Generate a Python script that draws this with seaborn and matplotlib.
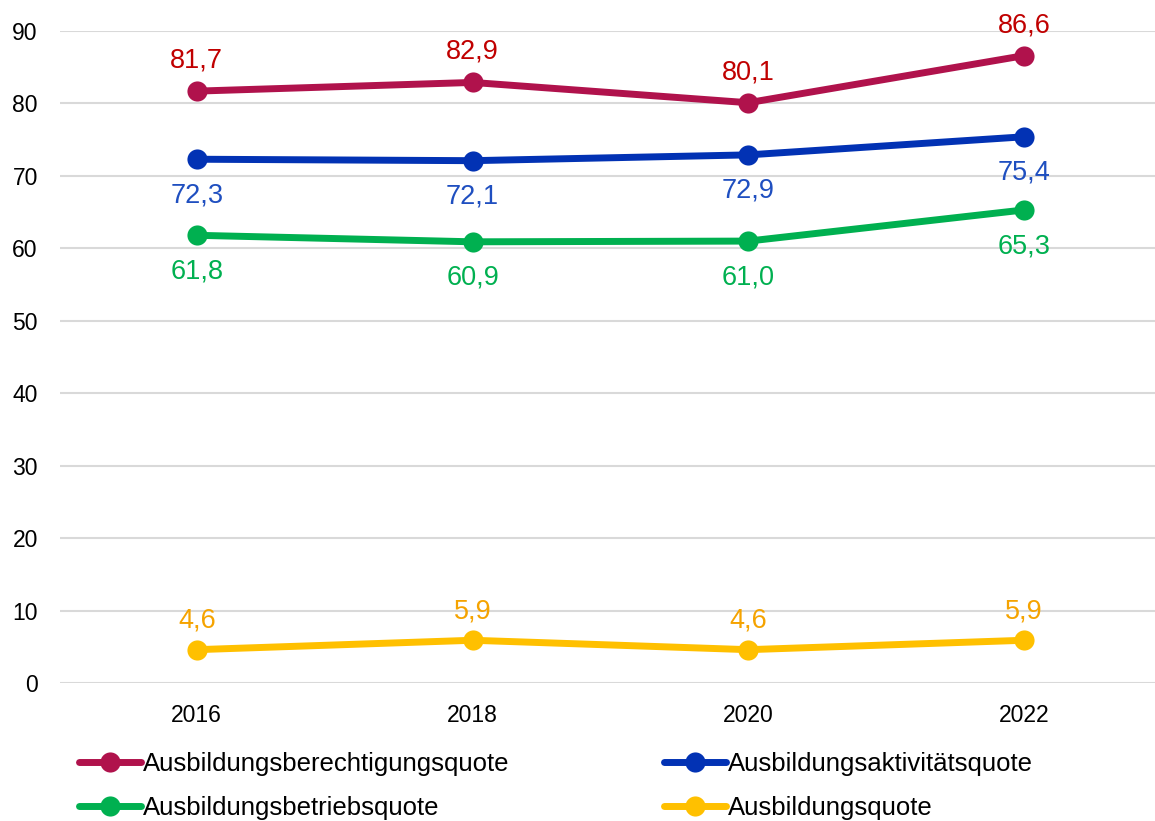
import matplotlib
matplotlib.use("Agg")
import matplotlib.pyplot as plt
import seaborn as sns
import pandas as pd
from matplotlib.lines import Line2D

years = ["2016", "2018", "2020", "2022"]
berechtigung = [81.7, 82.9, 80.1, 86.6]
aktivitaet = [72.3, 72.1, 72.9, 75.4]
betrieb = [61.8, 60.9, 61.0, 65.3]
quote = [4.6, 5.9, 4.6, 5.9]
series_names = ["Ausbildungsberechtigungsquote", "Ausbildungsaktivitätsquote",
                "Ausbildungsbetriebsquote", "Ausbildungsquote"]
yticks = [0, 10, 20, 30, 40, 50, 60, 70, 80, 90]

sns.set_theme(style="white")
plt.rcParams['font.family'] = ['Liberation Sans', 'DejaVu Sans']
plt.rcParams['text.color'] = '#000000'

line_colors = ["#B0124C", "#0232B4", "#00B050", "#FFC000"]
label_colors = ["#C00000", "#1F4FC0", "#00B050", "#F5A300"]
offsets = [22, -26, -26, 21]

values = [berechtigung, aktivitaet, betrieb, quote]
rows = []
for name, vals in zip(series_names, values):
    for i, v in enumerate(vals):
        rows.append({"x": i, "year": years[i], "value": v, "series": name})
df = pd.DataFrame(rows)

fig = plt.figure(figsize=(11.55, 8.21), dpi=100)
ax = fig.add_axes([60/1155, 1 - 683/821, 1 - 60/1155, (683 - 31)/821])

sns.lineplot(data=df, x="x", y="value", hue="series", palette=line_colors,
             hue_order=series_names, marker="o", markersize=14.5, linewidth=5,
             markeredgewidth=0, ax=ax, legend=False, sort=False)

for vals, col, off in zip(values, label_colors, offsets):
    for i, v in enumerate(vals):
        ax.annotate(f"{v:.1f}".replace(".", ","), (i, v), xytext=(0, off),
                    textcoords="offset points", ha="center", va="center",
                    fontsize=19.5, color=col)

ax.set_xlim(-0.496, 3.475)
ax.set_ylim(0, 90)
ax.set_yticks(yticks)
ax.set_xticks(range(len(years)))
ax.set_xticklabels(years)
ax.yaxis.grid(True, color="#D9D9D9", linewidth=1.5)
ax.set_axisbelow(True)
for s in ["top", "right", "left", "bottom"]:
    ax.spines[s].set_visible(False)
ax.tick_params(axis="both", length=0, labelsize=16.5, colors="#000000")
ax.tick_params(axis="y", pad=16)
ax.tick_params(axis="x", pad=15)
ax.set_xlabel("")
ax.set_ylabel("")

def make_handle(c):
    return Line2D([0], [0], color=c, lw=5, marker="o", markersize=14.5,
                  markeredgewidth=0)

leg_kw = dict(loc="center left", frameon=False, handlelength=2.4,
              handletextpad=0.1, labelspacing=0.78, borderpad=0, borderaxespad=0,
              labelcolor="#000000",
              prop={"family": ["Liberation Sans"], "size": 18.5})
yc = 1 - 786/821
leg1 = fig.legend([make_handle(line_colors[0]), make_handle(line_colors[2])],
                  [series_names[0], series_names[2]],
                  bbox_to_anchor=(79/1155, yc), **leg_kw)
leg2 = fig.legend([make_handle(line_colors[1]), make_handle(line_colors[3])],
                  [series_names[1], series_names[3]],
                  bbox_to_anchor=(664/1155, yc), **leg_kw)

fig.savefig("out.png", dpi=100)
